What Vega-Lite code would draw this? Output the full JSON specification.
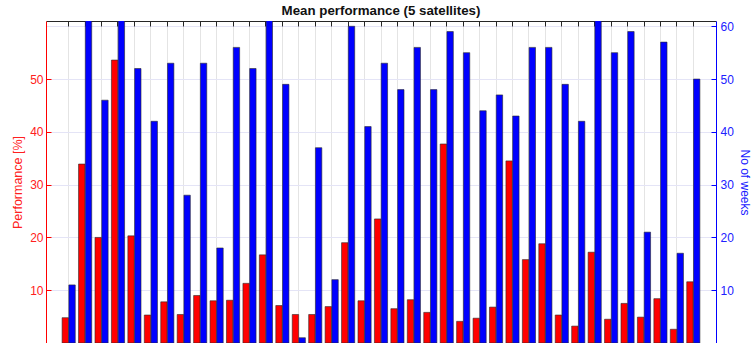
{
  "$schema": "https://vega.github.io/schema/vega-lite/v6.json",
  "width": 670,
  "height": 322,
  "autosize": {"type": "none"},
  "padding": {"left": 46, "top": 21, "right": 37, "bottom": 0},
  "background": "white",
  "config": {"view": {"stroke": null}, "font": "Liberation Sans"},
  "title": {"text": "Mean performance (5 satellites)", "fontSize": 13.3, "fontWeight": "bold", "font": "Liberation Sans", "color": "#111", "offset": 3, "anchor": "middle"},
  "data": {"values": [
    {"i": 1, "perf": 4.8, "weeks": 11},
    {"i": 2, "perf": 33.9, "weeks": 62},
    {"i": 3, "perf": 20.0, "weeks": 46},
    {"i": 4, "perf": 53.6, "weeks": 62},
    {"i": 5, "perf": 20.3, "weeks": 52},
    {"i": 6, "perf": 5.3, "weeks": 42},
    {"i": 7, "perf": 7.8, "weeks": 53},
    {"i": 8, "perf": 5.4, "weeks": 28},
    {"i": 9, "perf": 9.0, "weeks": 53},
    {"i": 10, "perf": 8.0, "weeks": 18},
    {"i": 11, "perf": 8.1, "weeks": 56},
    {"i": 12, "perf": 11.3, "weeks": 52},
    {"i": 13, "perf": 16.7, "weeks": 62},
    {"i": 14, "perf": 7.1, "weeks": 49},
    {"i": 15, "perf": 5.4, "weeks": 1},
    {"i": 16, "perf": 5.4, "weeks": 37},
    {"i": 17, "perf": 6.9, "weeks": 12},
    {"i": 18, "perf": 19.0, "weeks": 60},
    {"i": 19, "perf": 8.0, "weeks": 41},
    {"i": 20, "perf": 23.5, "weeks": 53},
    {"i": 21, "perf": 6.5, "weeks": 48},
    {"i": 22, "perf": 8.2, "weeks": 56},
    {"i": 23, "perf": 5.8, "weeks": 48},
    {"i": 24, "perf": 37.7, "weeks": 59},
    {"i": 25, "perf": 4.1, "weeks": 55},
    {"i": 26, "perf": 4.7, "weeks": 44},
    {"i": 27, "perf": 6.8, "weeks": 47},
    {"i": 28, "perf": 34.5, "weeks": 43},
    {"i": 29, "perf": 15.8, "weeks": 56},
    {"i": 30, "perf": 18.8, "weeks": 56},
    {"i": 31, "perf": 5.3, "weeks": 49},
    {"i": 32, "perf": 3.2, "weeks": 42},
    {"i": 33, "perf": 17.2, "weeks": 62},
    {"i": 34, "perf": 4.5, "weeks": 55},
    {"i": 35, "perf": 7.5, "weeks": 59},
    {"i": 36, "perf": 4.9, "weeks": 21},
    {"i": 37, "perf": 8.4, "weeks": 57},
    {"i": 38, "perf": 2.6, "weeks": 17},
    {"i": 39, "perf": 11.6, "weeks": 50}
  ]},
  "transform": [{"fold": ["perf", "weeks"], "as": ["series", "value"]}],
  "encoding": {
    "x": {
      "field": "i", "type": "ordinal",
      "scale": {"paddingInner": 0.2, "paddingOuter": 0.98},
      "axis": {"orient": "top", "labels": false, "title": null, "bandPosition": 0.5,
               "domainColor": "#262626", "domainWidth": 1, "tickColor": "#262626", "tickSize": -5,
               "grid": true, "gridColor": "#e4e4e4", "gridWidth": 1}
    },
    "xOffset": {"field": "series", "type": "nominal", "scale": {"domain": ["perf", "weeks"], "paddingInner": 0.05}}
  },
  "layer": [
    {
      "transform": [{"filter": "datum.series === 'perf'"}],
      "mark": {"type": "bar", "fill": "#ff0000", "stroke": "#2a2a2a", "strokeWidth": 0.6},
      "encoding": {
        "y": {"field": "value", "type": "quantitative",
              "scale": {"domain": [0, 61], "nice": false, "zero": true},
              "axis": {"orient": "left", "values": [10, 20, 30, 40, 50], "grid": false,
                       "domainColor": "#ff0000", "tickColor": "#ff0000", "tickSize": -5,
                       "labelColor": "#ff2020", "labelFontSize": 12, "labelFont": "Liberation Sans", "labelPadding": 8,
                       "title": "Performance [%]", "titleColor": "#ff2020", "titleFontSize": 12.5, "titleFontWeight": "normal", "titleFont": "Liberation Sans", "titlePadding": 5}}
      }
    },
    {
      "transform": [{"filter": "datum.series === 'weeks'"}],
      "mark": {"type": "bar", "fill": "#0000ff", "stroke": "#2a2a2a", "strokeWidth": 0.6, "clip": true},
      "encoding": {
        "y": {"field": "value", "type": "quantitative",
              "scale": {"domain": [0, 61], "nice": false, "zero": true},
              "axis": {"orient": "right", "values": [10, 20, 30, 40, 50, 60], "grid": true, "gridColor": "#e4e4f6", "gridWidth": 1,
                       "domainColor": "#0000ff", "tickColor": "#0000ff", "tickSize": -5,
                       "labelColor": "#2020ff", "labelFontSize": 12, "labelFont": "Liberation Sans", "labelPadding": 9,
                       "title": "No of weeks", "titleColor": "#2020ff", "titleFontSize": 12, "titleFontWeight": "normal", "titleFont": "Liberation Sans", "titlePadding": 4}}
      }
    }
  ],
  "resolve": {"scale": {"y": "independent"}}
}
